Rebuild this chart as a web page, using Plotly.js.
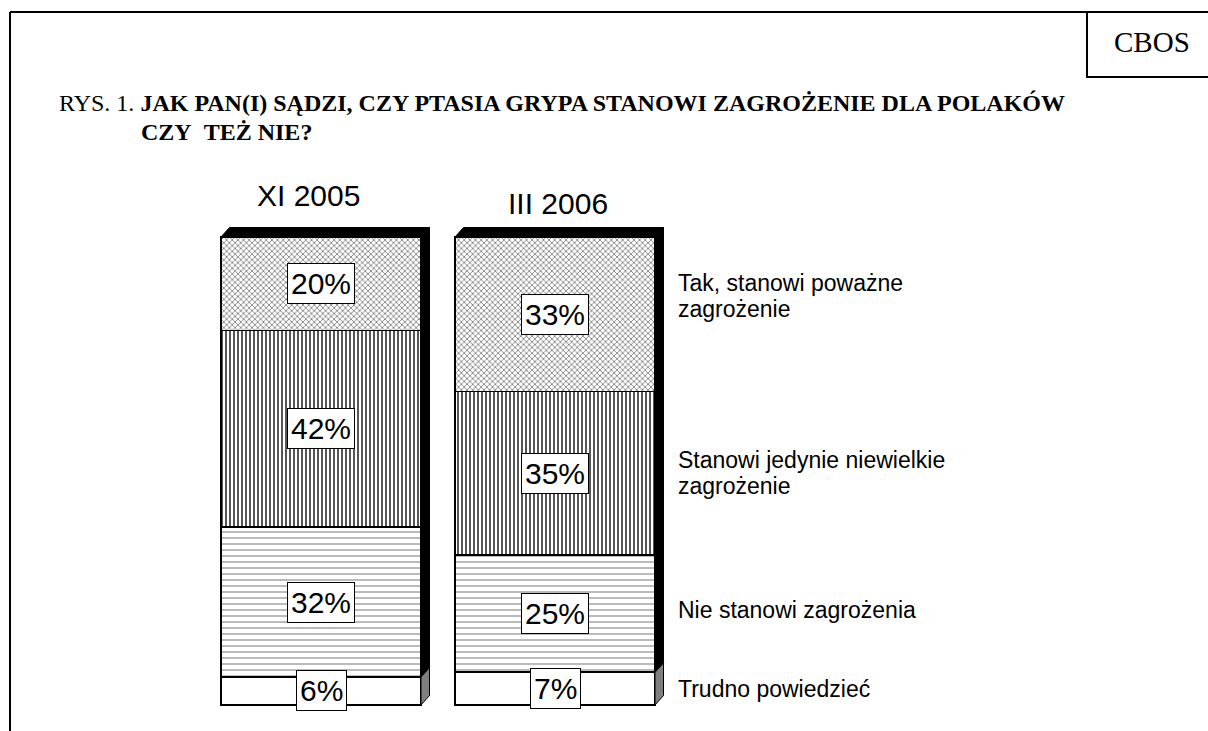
<!DOCTYPE html>
<html>
<head>
<meta charset="utf-8">
<script src="https://cdn.plot.ly/plotly-3.0.1.min.js"></script>
<style>html,body{margin:0;padding:0;background:#fff;}#chart{width:1208px;height:731px;}</style>
</head>
<body>
<div id="chart"></div>
<script>
// ---- data ----
const periods = ['XI 2005', 'III 2006'];
const answers = ['Trudno powiedzieć', 'Nie stanowi zagrożenia', 'Stanowi jedynie niewielkie<br>zagrożenie', 'Tak, stanowi poważne<br>zagrożenie'];
const trudno = [6, 7];
const nieStanowi = [32, 25];
const niewielkie = [42, 35];
const powazne = [20, 33];
const titleLead = 'RYS. 1. ';
const titleLine1 = 'JAK PAN(I) SĄDZI, CZY PTASIA GRYPA STANOWI ZAGROŻENIE DLA POLAKÓW';
const titleLine2 = 'CZY&nbsp;&nbsp;TEŻ NIE?';
const source = 'CBOS';

// ---- geometry ----
const W = 1208, H = 731;
const mL = 204, mR = 524, mT = 223, mB = 21;
const pw = W - mL - mR, ph = H - mT - mB;
const xr = [-0.5, -0.5 + pw / 234];
const yr = [-(H - mB - 705) / 4.68, 100 + (237 - mT) / 4.68];
const px2paperX = p => (p - mL) / pw;
const px2paperY = p => (H - mB - p) / ph;
const barW = 200 / 234;
const dx = 8.5 / 234, dy = 9.5 / 4.68;

const series = [trudno, nieStanowi, niewielkie, powazne];
const patterns = [
  {shape: '', bgcolor: '#ffffff'},
  {shape: '-', size: 6, solidity: 0.15, fgcolor: '#666666', bgcolor: '#ffffff'},
  {shape: '|', size: 4, solidity: 0.45, fgcolor: '#444444', bgcolor: '#ffffff'},
  {shape: 'x', size: 4, solidity: 0.3, fgcolor: '#555555', bgcolor: '#ffffff'}
];
const xs = periods.map((_, i) => i);

const traces = series.map((vals, k) => ({
  type: 'bar', x: xs, y: vals, width: barW, name: answers[k],
  marker: {color: '#ffffff', pattern: patterns[k], line: {color: '#000000', width: 1.5}},
  hoverinfo: 'skip', showlegend: false
}));

const shapes = [];
const annotations = [];
const sans = 'Liberation Sans, Arial';
const serif = 'Liberation Serif, Times New Roman';

periods.forEach((p, i) => {
  const xl = i - barW / 2, xR = i + barW / 2;
  const total = series.reduce((s, a) => s + a[i], 0);
  const b0 = series[0][i];
  shapes.push({type: 'path', xref: 'x', yref: 'y', layer: 'above',
    path: `M${xR},0 L${xR + dx},${dy} L${xR + dx},${b0 + dy} L${xR},${b0} Z`,
    fillcolor: '#7f7f7f', line: {color: '#000000', width: 1}});
  shapes.push({type: 'path', xref: 'x', yref: 'y', layer: 'above',
    path: `M${xR},${b0} L${xR + dx},${b0 + dy} L${xR + dx},${total + dy} L${xR},${total} Z`,
    fillcolor: '#000000', line: {color: '#000000', width: 1}});
  shapes.push({type: 'path', xref: 'x', yref: 'y', layer: 'above',
    path: `M${xl},${total} L${xl + dx},${total + dy} L${xR + dx},${total + dy} L${xR},${total} Z`,
    fillcolor: '#000000', line: {color: '#000000', width: 1}});

  let cum = 0;
  series.forEach((vals) => {
    const v = vals[i];
    annotations.push({xref: 'x', yref: 'y', x: i, y: cum + v / 2, xanchor: 'center', yanchor: 'middle',
      text: v + '%', showarrow: false, font: {family: sans, size: 30, color: '#000'},
      bgcolor: '#ffffff', bordercolor: '#000000', borderwidth: 1, borderpad: 3});
    cum += v;
  });
});

// period headers
annotations.push({xref: 'paper', yref: 'paper', x: px2paperX(308), y: px2paperY(195), xanchor: 'center', yanchor: 'middle',
  text: periods[0], showarrow: false, font: {family: sans, size: 30, color: '#000'}});
annotations.push({xref: 'paper', yref: 'paper', x: px2paperX(558), y: px2paperY(203), xanchor: 'center', yanchor: 'middle',
  text: periods[1], showarrow: false, font: {family: sans, size: 30, color: '#000'}});

// answer labels on the right, aligned with the second bar's segments
let cum2 = 0;
const yShifts = [0, 4, 0, 18];
series.forEach((vals, k) => {
  const v = vals[1];
  const lines = answers[k].split('<br>');
  const mid = cum2 + v / 2;
  lines.forEach((ln, j) => {
    const off = (j - (lines.length - 1) / 2) * 26;
    annotations.push({xref: 'paper', yref: 'y', x: px2paperX(676), y: mid, xanchor: 'left', yanchor: 'middle',
      yshift: yShifts[k] - off, text: ln, showarrow: false,
      font: {family: sans, size: 23, color: '#000'}});
  });
  cum2 += v;
});

// title
annotations.push({xref: 'paper', yref: 'paper', x: px2paperX(57), y: px2paperY(103), xanchor: 'left', yanchor: 'middle',
  text: titleLead + '<b>' + titleLine1 + '</b>', showarrow: false,
  font: {family: serif, size: 24, color: '#000'}});
annotations.push({xref: 'paper', yref: 'paper', x: px2paperX(139), y: px2paperY(132), xanchor: 'left', yanchor: 'middle',
  text: '<b>' + titleLine2 + '</b>', showarrow: false,
  font: {family: serif, size: 24, color: '#000'}});

// source box
annotations.push({xref: 'paper', yref: 'paper', x: px2paperX(1152), y: px2paperY(42), xanchor: 'center', yanchor: 'middle',
  text: source, showarrow: false, font: {family: serif, size: 29, color: '#000'}});
shapes.push({type: 'rect', xref: 'paper', yref: 'paper', x0: px2paperX(1087), x1: px2paperX(1215),
  y0: px2paperY(77), y1: px2paperY(12), line: {color: '#000', width: 2}, fillcolor: 'rgba(0,0,0,0)'});
// outer frame
shapes.push({type: 'line', xref: 'paper', yref: 'paper', x0: px2paperX(10), x1: px2paperX(1215),
  y0: px2paperY(12), y1: px2paperY(12), line: {color: '#000', width: 2}});
shapes.push({type: 'line', xref: 'paper', yref: 'paper', x0: px2paperX(10), x1: px2paperX(10),
  y0: px2paperY(12), y1: px2paperY(740), line: {color: '#000', width: 2}});

const layout = {
  width: W, height: H,
  margin: {l: mL, r: mR, t: mT, b: mB, pad: 0},
  paper_bgcolor: '#ffffff', plot_bgcolor: '#ffffff',
  barmode: 'stack', showlegend: false,
  xaxis: {range: xr, showgrid: false, zeroline: false, showticklabels: false, showline: false, fixedrange: true},
  yaxis: {range: yr, showgrid: false, zeroline: false, showticklabels: false, showline: false, fixedrange: true},
  shapes: shapes, annotations: annotations
};

Plotly.newPlot('chart', traces, layout, {displayModeBar: false, staticPlot: true});
</script>
</body>
</html>
